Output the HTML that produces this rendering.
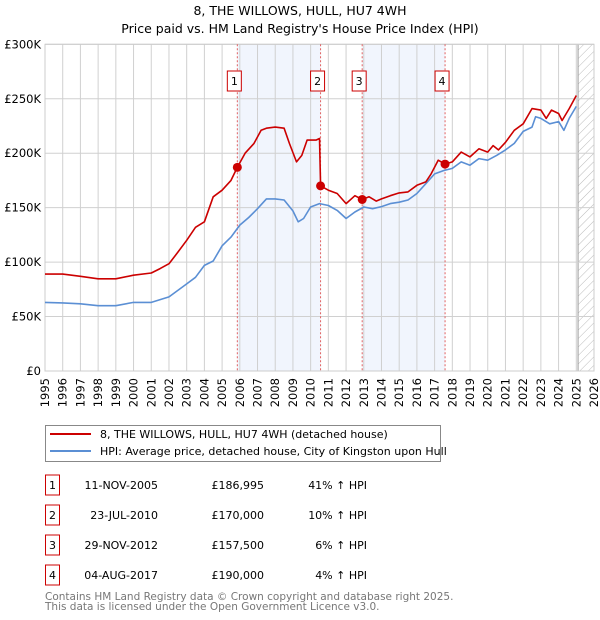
<!DOCTYPE html>
<html><head><meta charset="utf-8"><style>
body{margin:0;width:600px;height:620px;background:#fff;font-family:"DejaVu Sans","Liberation Sans",sans-serif;overflow:hidden}
svg{position:absolute;left:0;top:0}
</style></head><body>
<svg id="c" width="600" height="620" font-family="DejaVu Sans, Liberation Sans, sans-serif">
<text x="300" y="15" text-anchor="middle" font-size="12.5">8, THE WILLOWS, HULL, HU7 4WH</text>
<text x="300" y="33" text-anchor="middle" font-size="12.5">Price paid vs. HM Land Registry's House Price Index (HPI)</text>
<g id="plot"></g>
<g>
<rect x="45.5" y="425.5" width="395" height="36" fill="#fff" stroke="#888"/>
<line x1="50" y1="434" x2="91" y2="434" stroke="#cc0000" stroke-width="2"/>
<text x="100" y="438" font-size="11">8, THE WILLOWS, HULL, HU7 4WH (detached house)</text>
<line x1="50" y1="451" x2="91" y2="451" stroke="#5b8fd4" stroke-width="2"/>
<text x="100" y="455" font-size="11">HPI: Average price, detached house, City of Kingston upon Hull</text>
</g>
<g id="table" font-size="11"></g>
<text x="45" y="600" font-size="10.5" fill="#777">Contains HM Land Registry data © Crown copyright and database right 2025.</text>
<text x="45" y="610" font-size="10.5" fill="#777">This data is licensed under the Open Government Licence v3.0.</text>
</svg>
<script>
const hpiYears=[1995,1996,1997,1998,1999,2000,2001,2002,2003,2003.5,2004,2004.5,2005,2005.5,2006,2006.5,2007,2007.5,2008,2008.5,2009,2009.3,2009.6,2010,2010.5,2011,2011.5,2012,2012.5,2013,2013.5,2014,2014.5,2015,2015.5,2016,2016.5,2017,2017.5,2018,2018.5,2019,2019.5,2020,2020.5,2021,2021.5,2022,2022.5,2022.7,2023,2023.5,2024,2024.3,2024.6,2025];
const hpiValues=[63,62.5,61.7,60,60,63,63,68,80,86,97,101,115,123,134,141,149,158,158,157,147,137,140,150.6,153.7,152,147.5,140,146,150.6,149,151,153.7,155,157,163,172,181,184,186,192,189,195,193.6,198,203,209,220,224,233.5,232,227,229,221,232,243];
const propYears=[1995,1996,1997,1998,1999,2000,2001,2001.5,2002,2002.5,2003,2003.5,2004,2004.5,2005,2005.5,2005.86,2006.3,2006.8,2007.2,2007.5,2008,2008.5,2008.8,2009.2,2009.5,2009.8,2010.3,2010.5,2010.56,2011,2011.5,2012,2012.5,2012.91,2013.3,2013.7,2014,2014.5,2015,2015.5,2016,2016.5,2016.8,2017.2,2017.59,2018,2018.5,2019,2019.5,2020,2020.3,2020.6,2021,2021.5,2022,2022.5,2023,2023.3,2023.6,2024,2024.2,2024.6,2025];
const propValues=[89,89,87,84.7,84.7,88,90,94,98.5,109,120,132,137,160,166,175,187,200,209,221,223,224,223,209,192,198,212,212,213.5,170,166,163,153.7,161,157.5,160,156,158,161,163.5,164.5,170.5,173.6,181,193.6,190,192,201,196.6,204,201,207,203,210,221,227,241,239.6,232,239.6,236.5,230,241,253];
const saleLabels=["1","2","3","4"];
const saleYears=[2005.86,2010.56,2012.91,2017.59];
const saleValues=[186.995,170,157.5,190];
const saleDates=["11-NOV-2005","23-JUL-2010","29-NOV-2012","04-AUG-2017"];
const salePrices=["£186,995","£170,000","£157,500","£190,000"];
const saleHpi=["41% ↑ HPI","10% ↑ HPI","6% ↑ HPI","4% ↑ HPI"];
const yTicks=[0,50,100,150,200,250,300];
const yTickLabels=["£0","£50K","£100K","£150K","£200K","£250K","£300K"];
const xTicks=[1995,1996,1997,1998,1999,2000,2001,2002,2003,2004,2005,2006,2007,2008,2009,2010,2011,2012,2013,2014,2015,2016,2017,2018,2019,2020,2021,2022,2023,2024,2025,2026];

const NS="http://www.w3.org/2000/svg";
const X0=45,X1=594,Y0=371,Y1=44.3;
const xs=y=>X0+(y-1995)/31*(X1-X0);
const ys=v=>Y0-v/300*(Y0-Y1);
const plot=document.getElementById('plot');
function mk(tag,attrs,parent){const e=document.createElementNS(NS,tag);for(const k in attrs)e.setAttribute(k,attrs[k]);(parent||plot).appendChild(e);return e;}

for(let i=0;i<saleYears.length;i+=2){
  const r=mk('rect',{x:xs(saleYears[i]),y:Y1,width:xs(saleYears[i+1])-xs(saleYears[i]),height:Y0-Y1,fill:'#eef3fc',opacity:0.8});
  
  
}
const defs=mk('defs',{});
const pat=mk('pattern',{id:'h',width:6,height:6,patternUnits:'userSpaceOnUse',patternTransform:'rotate(45)'},defs);
mk('line',{x1:0,y1:0,x2:0,y2:6,stroke:'#bbb','stroke-width':1},pat);
const hx=xs(2025.1);
const hr=mk('rect',{x:hx,y:Y1,width:X1-hx,height:Y0-Y1,fill:'url(#h)'});


mk('line',{x1:hx,y1:Y1,x2:hx,y2:Y0,stroke:'#999','stroke-width':1});
xTicks.forEach(t=>{
  const l=mk('line',{x1:xs(t),y1:Y1,x2:xs(t),y2:Y0,stroke:'#d0d0d0','stroke-width':1});
  
  
  const tx=mk('text',{x:0,y:0,'font-size':11.5,'text-anchor':'end',transform:`translate(${xs(t)+4},${Y0+7}) rotate(-90)`});
  tx.textContent=t;
  
  
});
yTicks.forEach((t,i)=>{
  const l=mk('line',{x1:X0,y1:ys(t),x2:X1,y2:ys(t),stroke:'#d0d0d0','stroke-width':1});
  
  
  const tx=mk('text',{x:X0-4,y:ys(t)+4,'font-size':11.5,'text-anchor':'end'});
  tx.textContent=yTickLabels[i];
  
  
});
mk('rect',{x:X0,y:Y1,width:X1-X0,height:Y0-Y1,fill:'none',stroke:'#ccc'});
saleYears.forEach((s,i)=>{
  const l=mk('line',{x1:xs(s),y1:Y1,x2:xs(s),y2:Y0,stroke:'#e06060','stroke-width':1,'stroke-dasharray':'2,2'});
  
  
  const g=mk('g',{});
  
  
  mk('rect',{x:xs(s)-10,y:71,width:14,height:20,fill:'#fff',stroke:'#cc0000'},g);
  const t=mk('text',{x:xs(s)-3,y:85,'font-size':11,'text-anchor':'middle'},g);
  t.textContent=saleLabels[i];
});
function path(xa,va,color,name){
  const d=xa.map((x,i)=>(i?'L':'M')+xs(x).toFixed(1)+','+ys(va[i]).toFixed(1)).join('');
  const p=mk('path',{d:d,fill:'none',stroke:color,'stroke-width':1.6,'stroke-linejoin':'round'});
  
  
}
path(hpiYears,hpiValues,'#5b8fd4','hpi-line');
path(propYears,propValues,'#cc0000','property-price-line');
saleYears.forEach((s,i)=>{
  const c=mk('circle',{cx:xs(s),cy:ys(saleValues[i]),r:4.5,fill:'#cc0000'});
  
  
});
const tb=document.getElementById('table');
saleLabels.forEach((lab,i)=>{
  const y=485+i*30;
  const g=mk('g',{},tb);
  
  
  mk('rect',{x:45.5,y:y-10,width:14,height:20,fill:'#fff',stroke:'#cc0000'},g);
  let t=mk('text',{x:52.5,y:y+4,'text-anchor':'middle'},g);t.textContent=lab;
  t=mk('text',{x:158,y:y+4,'text-anchor':'end'},g);t.textContent=saleDates[i];
  t=mk('text',{x:264,y:y+4,'text-anchor':'end'},g);t.textContent=salePrices[i];
  t=mk('text',{x:367,y:y+4,'text-anchor':'end'},g);t.textContent=saleHpi[i];
});
</script>
</body></html>
